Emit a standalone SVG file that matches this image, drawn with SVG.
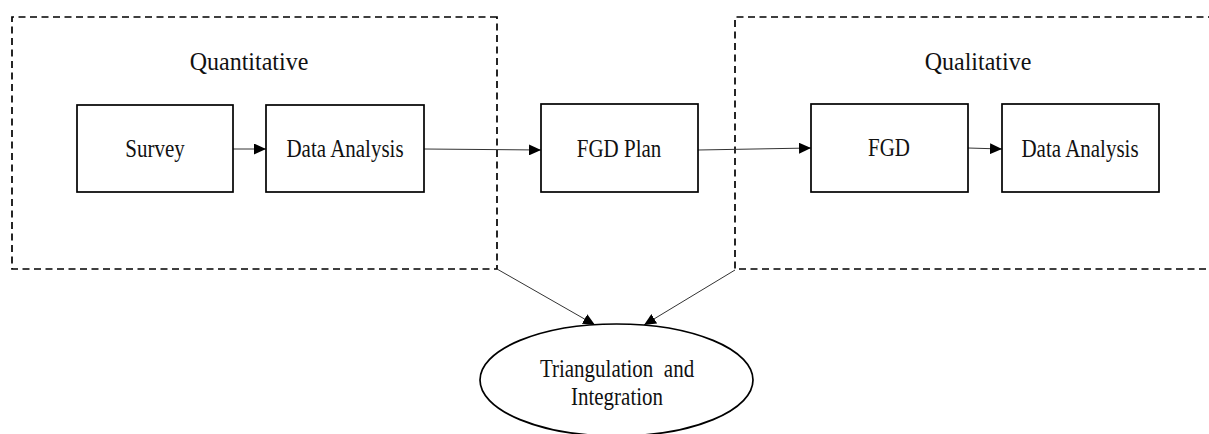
<svg xmlns="http://www.w3.org/2000/svg" width="1209" height="434" viewBox="0 0 1209 434">
<defs>
<style>
.grp{fill:none;stroke:#000;stroke-width:1.7;stroke-dasharray:7 4.5}
.box{fill:#fff;stroke:#000;stroke-width:1.7}
.ln{fill:none;stroke:#333;stroke-width:1}
.t{font-family:"Liberation Serif","Times New Roman",serif;fill:#111;text-anchor:middle}
.h{font-size:24px}
.b{font-size:21px}
</style>
<marker id="ah" markerWidth="12" markerHeight="11" refX="12" refY="5.5" orient="auto" markerUnits="userSpaceOnUse">
<path d="M0,0 L12,5.5 L0,11 Z" fill="#000"/>
</marker>
</defs>
<rect width="1209" height="434" fill="#fff"/>
<g id="quantitative">
<path class="grp" d="M497,17 H12 V269 H497 Z"/>
<text class="t h" transform="translate(249,70) scale(1,1.08)">Quantitative</text>
</g>
<g id="qualitative">
<path class="grp" d="M1215,17 H735 V269 H1215"/>
<text class="t h" transform="translate(978,70) scale(1,1.08)">Qualitative</text>
</g>
<g id="connectors">
<line class="ln" x1="233" y1="149" x2="266" y2="149" marker-end="url(#ah)"/>
<line class="ln" x1="424" y1="149" x2="541" y2="150" marker-end="url(#ah)"/>
<line class="ln" x1="698" y1="150" x2="811" y2="148" marker-end="url(#ah)"/>
<line class="ln" x1="968" y1="148" x2="1002" y2="149" marker-end="url(#ah)"/>
<line class="ln" x1="497" y1="269" x2="595" y2="325" marker-end="url(#ah)"/>
<line class="ln" x1="735" y1="270" x2="644" y2="325" marker-end="url(#ah)"/>
</g>
<g id="survey">
<rect class="box" x="77" y="105" width="156" height="87"/>
<text class="t b" transform="translate(155,157) scale(1,1.15)">Survey</text>
</g>
<g id="data-analysis-1">
<rect class="box" x="266" y="105" width="158" height="87"/>
<text class="t b" transform="translate(345,157) scale(1,1.15)">Data Analysis</text>
</g>
<g id="fgd-plan">
<rect class="box" x="541" y="104" width="157" height="88"/>
<text class="t b" transform="translate(619,157) scale(1,1.15)">FGD Plan</text>
</g>
<g id="fgd">
<rect class="box" x="811" y="104" width="157" height="88"/>
<text class="t b" transform="translate(889,156) scale(1,1.15)">FGD</text>
</g>
<g id="data-analysis-2">
<rect class="box" x="1002" y="104" width="157" height="88"/>
<text class="t b" transform="translate(1080,157) scale(1,1.15)">Data Analysis</text>
</g>
<g id="triangulation">
<ellipse class="box" cx="616.5" cy="380" rx="136.5" ry="56"/>
<text class="t b" transform="translate(617,377) scale(1,1.15)" xml:space="preserve">Triangulation  and</text>
<text class="t b" transform="translate(617,405) scale(1,1.15)">Integration</text>
</g>
</svg>
